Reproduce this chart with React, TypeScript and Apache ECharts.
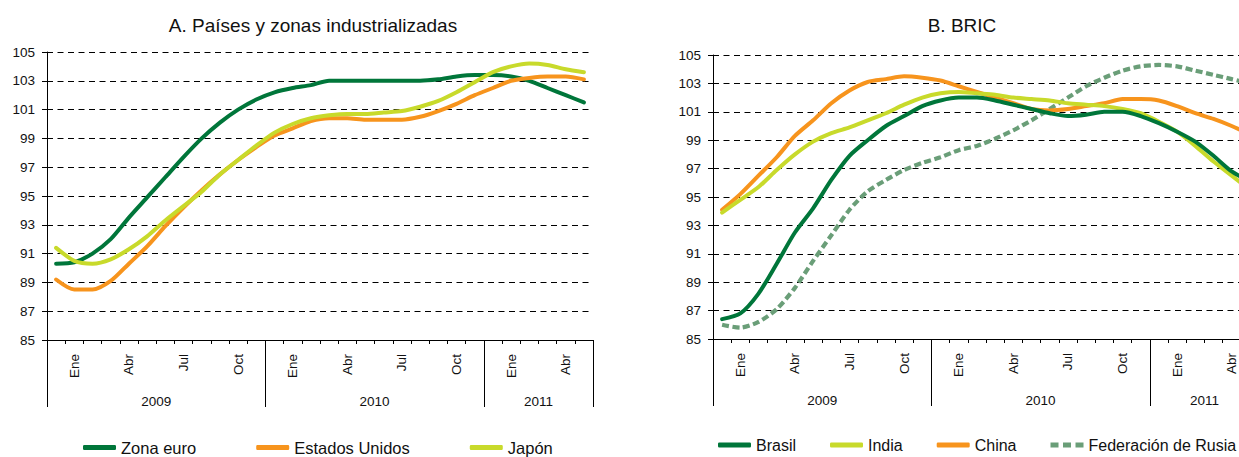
import React, { useEffect, useRef } from "react";
import * as echarts from "echarts";

// Tick labels of the month axis (one entry per monthly category)
const monthTicks = [
  "", "Ene", "", "", "Abr", "", "", "Jul", "", "", "Oct", "",
  "", "Ene", "", "", "Abr", "", "", "Jul", "", "", "Oct", "",
  "", "Ene", "", "", "Abr", "",
];
const yearLabels = ["2009", "2010", "2011"];
const yearBounds = [0, 12, 24, 30];

// A. Países y zonas industrializadas
const zonaEuro = [90.3, 90.4, 91.0, 92.0, 93.5, 94.9, 96.3, 97.7, 99.0, 100.1, 101.0, 101.7, 102.2, 102.5, 102.7, 103.0, 103.0, 103.0, 103.0, 103.0, 103.0, 103.1, 103.3, 103.4, 103.4, 103.3, 103.0, 102.5, 102.0, 101.5];
const estadosUnidos = [89.2, 88.5, 88.5, 89.1, 90.3, 91.5, 92.9, 94.2, 95.4, 96.5, 97.5, 98.4, 99.2, 99.7, 100.2, 100.4, 100.4, 100.3, 100.3, 100.3, 100.5, 100.9, 101.4, 102.0, 102.5, 103.0, 103.2, 103.3, 103.3, 103.1];
const japon = [91.4, 90.5, 90.3, 90.6, 91.3, 92.2, 93.3, 94.3, 95.3, 96.5, 97.5, 98.5, 99.4, 100.0, 100.4, 100.6, 100.7, 100.7, 100.8, 100.9, 101.2, 101.6, 102.2, 102.9, 103.6, 104.0, 104.2, 104.1, 103.8, 103.6];

// B. BRIC
const brasil = [86.4, 86.8, 88.2, 90.3, 92.5, 94.2, 96.2, 97.9, 99.0, 100.0, 100.7, 101.4, 101.8, 102.0, 102.0, 101.8, 101.5, 101.2, 100.9, 100.7, 100.8, 101.0, 101.0, 100.7, 100.2, 99.6, 98.9, 97.9, 96.8, 96.1];
const india = [93.9, 94.8, 95.7, 96.9, 98.0, 98.9, 99.5, 99.9, 100.4, 100.9, 101.5, 102.0, 102.3, 102.4, 102.3, 102.2, 102.0, 101.9, 101.8, 101.6, 101.5, 101.4, 101.2, 100.9, 100.3, 99.6, 98.6, 97.5, 96.5, 95.5];
const china = [94.1, 95.2, 96.5, 97.8, 99.3, 100.4, 101.6, 102.5, 103.1, 103.3, 103.5, 103.4, 103.2, 102.8, 102.4, 102.0, 101.6, 101.2, 101.1, 101.2, 101.4, 101.6, 101.9, 101.9, 101.8, 101.4, 100.9, 100.5, 100.0, 99.4];
const rusia = [86.0, 85.8, 86.2, 87.1, 88.6, 90.5, 92.3, 94.1, 95.4, 96.2, 96.9, 97.4, 97.8, 98.3, 98.6, 99.1, 99.7, 100.4, 101.2, 102.0, 102.8, 103.4, 103.9, 104.2, 104.3, 104.2, 103.9, 103.6, 103.3, 103.0];

const DARK = "#00763a";
const ORANGE = "#f7941d";
const LIME = "#c8da2b";
const GREY_GREEN = "#6a9e78";
const FONT = "'Liberation Sans', Arial, sans-serif";
const SOLID_ICON = "roundRect";
const DASH_ICON = "path://M0,0h8v5h-8z M12.5,0h8v5h-8z M25,0h8v5h-8z";

const yearCenters = yearLabels.map((_, i) => (yearBounds[i] + yearBounds[i + 1]) / 2);

function monthAxis(gridIndex: number) {
  return {
    type: "category",
    gridIndex,
    position: "bottom",
    boundaryGap: true,
    data: monthTicks.map((_, i) => String(i)),
    axisLine: { show: true, onZero: false, lineStyle: { color: "#000", width: 1 } },
    axisTick: { show: true, interval: 0, length: 4, lineStyle: { color: "#000", width: 1 } },
    axisLabel: {
      interval: (idx: number) => monthTicks[idx] !== "",
      formatter: (_v: string, idx: number) => monthTicks[idx],
      rotate: 90,
      margin: 14,
      color: "#111",
      fontSize: 13.5,
      fontFamily: FONT,
    },
    splitLine: { show: false },
  };
}

function yearAxis(gridIndex: number) {
  return {
    type: "value",
    gridIndex,
    position: "bottom",
    min: yearBounds[0],
    max: yearBounds[yearBounds.length - 1],
    axisLine: { show: false, onZero: false },
    axisTick: {
      show: true,
      customValues: yearBounds,
      length: 67,
      lineStyle: { color: "#000", width: 1 },
    },
    axisLabel: {
      customValues: yearCenters,
      formatter: (v: number) => yearLabels[yearCenters.indexOf(v)] ?? "",
      margin: 54,
      color: "#111",
      fontSize: 13.5,
      fontFamily: FONT,
      showMinLabel: true,
      showMaxLabel: true,
    },
    splitLine: { show: false },
  };
}

function valueAxis(gridIndex: number) {
  return {
    type: "value",
    gridIndex,
    min: 85,
    max: 105,
    interval: 2,
    axisLine: { show: true, onZero: false, lineStyle: { color: "#000", width: 1 } },
    axisTick: { show: true, length: 5, lineStyle: { color: "#000", width: 1 } },
    axisLabel: { margin: 12, color: "#111", fontSize: 13.5, fontFamily: FONT },
    splitLine: { show: true, lineStyle: { color: "#000", width: 1, type: [6, 4.5] } },
  };
}

function lineSeries(name: string, data: number[], color: string, idx: number, dashed = false) {
  return {
    name,
    type: "line",
    xAxisIndex: idx * 2,
    yAxisIndex: idx,
    data,
    smooth: 0.25,
    symbol: "none",
    showSymbol: false,
    lineStyle: dashed
      ? { color, width: 4.2, type: [7, 3.5], cap: "butt" }
      : { color, width: 4, type: "solid", cap: "round" },
    itemStyle: { color },
    z: 3,
  };
}

export default function App() {
  const ref = useRef<HTMLDivElement>(null);
  useEffect(() => {
    if (!ref.current) return;
    const chart = echarts.init(ref.current, undefined, { renderer: "svg" });
    chart.setOption({
      animation: false,
      backgroundColor: "#fff",
      textStyle: { fontFamily: FONT },
      title: [
        {
          text: "A. Países y zonas industrializadas",
          left: 308,
          top: 11,
          textAlign: "center",
          textStyle: { fontSize: 19, fontWeight: "normal", color: "#111", fontFamily: FONT },
        },
        {
          text: "B. BRIC",
          left: 957,
          top: 11,
          textAlign: "center",
          textStyle: { fontSize: 19, fontWeight: "normal", color: "#111", fontFamily: FONT },
        },
      ],
      grid: [
        { left: 47, top: 52, width: 546, height: 288 },
        { left: 713, top: 55, width: 546, height: 284 },
      ],
      xAxis: [monthAxis(0), yearAxis(0), monthAxis(1), yearAxis(1)],
      yAxis: [valueAxis(0), valueAxis(1)],
      legend: [
        {
          data: [
            { name: "Zona euro", icon: SOLID_ICON },
            { name: "Estados Unidos", icon: SOLID_ICON },
            { name: "Japón", icon: SOLID_ICON },
          ],
          left: 83,
          top: 439,
          padding: 0,
          itemGap: 60,
          itemWidth: 33,
          itemHeight: 5,
          textStyle: { fontSize: 16.5, color: "#111", fontFamily: FONT },
        },
        {
          data: [
            { name: "Brasil", icon: SOLID_ICON },
            { name: "India", icon: SOLID_ICON },
            { name: "China", icon: SOLID_ICON },
            { name: "Federación de Rusia", icon: DASH_ICON },
          ],
          left: 718,
          top: 437,
          padding: 0,
          itemGap: 34,
          itemWidth: 33,
          itemHeight: 5,
          textStyle: { fontSize: 16, color: "#111", fontFamily: FONT },
        },
      ],
      series: [
        lineSeries("Zona euro", zonaEuro, DARK, 0),
        lineSeries("Estados Unidos", estadosUnidos, ORANGE, 0),
        lineSeries("Japón", japon, LIME, 0),
        lineSeries("Federación de Rusia", rusia, GREY_GREEN, 1, true),
        lineSeries("China", china, ORANGE, 1),
        lineSeries("India", india, LIME, 1),
        lineSeries("Brasil", brasil, DARK, 1),
      ],
    });
    return () => chart.dispose();
  }, []);
  return (
    <div
      style={{
        position: "fixed",
        left: 0,
        top: 0,
        width: 1239,
        height: 457,
        overflow: "hidden",
        background: "#fff",
      }}
    >
      <div ref={ref} style={{ width: 1290, height: 457 }} />
    </div>
  );
}
